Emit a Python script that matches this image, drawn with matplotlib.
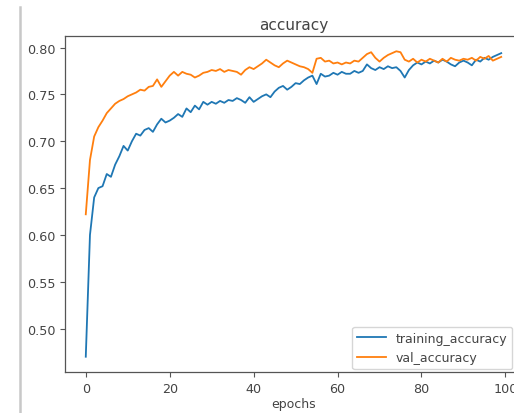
import matplotlib
matplotlib.use("Agg")
import matplotlib.pyplot as plt
from matplotlib.lines import Line2D

training_accuracy = [
    0.470, 0.600, 0.640, 0.650, 0.652, 0.665, 0.662, 0.675, 0.684, 0.695,
    0.690, 0.700, 0.708, 0.706, 0.712, 0.714, 0.710, 0.718, 0.724, 0.720,
    0.722, 0.725, 0.729, 0.726, 0.735, 0.731, 0.738, 0.734, 0.742, 0.739,
    0.742, 0.740, 0.743, 0.741, 0.744, 0.743, 0.746, 0.744, 0.741, 0.747,
    0.742, 0.745, 0.748, 0.750, 0.747, 0.753, 0.757, 0.759, 0.755, 0.758,
    0.762, 0.761, 0.765, 0.768, 0.770, 0.761, 0.772, 0.769, 0.770, 0.773,
    0.771, 0.774, 0.772, 0.772, 0.775, 0.773, 0.775, 0.782, 0.778, 0.776,
    0.779, 0.777, 0.780, 0.778, 0.779, 0.775, 0.768, 0.776, 0.781, 0.784,
    0.782, 0.785, 0.783, 0.786, 0.784, 0.787, 0.785, 0.782, 0.780, 0.784,
    0.786, 0.784, 0.781, 0.787, 0.785, 0.789, 0.787, 0.790, 0.792, 0.794,
]
val_accuracy = [
    0.622, 0.680, 0.705, 0.715, 0.722, 0.730, 0.735, 0.740, 0.743, 0.745,
    0.748, 0.750, 0.752, 0.755, 0.754, 0.758, 0.759, 0.766, 0.758, 0.764,
    0.770, 0.774, 0.770, 0.774, 0.772, 0.771, 0.768, 0.770, 0.773, 0.774,
    0.776, 0.775, 0.777, 0.774, 0.776, 0.775, 0.774, 0.771, 0.776, 0.779,
    0.777, 0.780, 0.783, 0.787, 0.784, 0.781, 0.779, 0.783, 0.786, 0.784,
    0.782, 0.780, 0.779, 0.777, 0.773, 0.788, 0.789, 0.785, 0.786, 0.783,
    0.784, 0.782, 0.784, 0.783, 0.786, 0.785, 0.789, 0.793, 0.795, 0.789,
    0.785, 0.789, 0.792, 0.794, 0.796, 0.795, 0.787, 0.785, 0.788, 0.784,
    0.787, 0.785, 0.788, 0.786, 0.784, 0.788, 0.785, 0.789, 0.787, 0.786,
    0.788, 0.787, 0.789, 0.786, 0.790, 0.788, 0.791, 0.786, 0.788, 0.790,
]
epochs = list(range(len(training_accuracy)))
xticks = [0, 20, 40, 60, 80, 100]
yticks = [0.50, 0.55, 0.60, 0.65, 0.70, 0.75, 0.80]
title = "accuracy"
xlabel = "epochs"

W, H = 514, 414
fig = plt.figure(figsize=(W / 100, H / 100), dpi=100)
txt = "#444444"

# axes extends beyond right edge (cropped screenshot)
ax = fig.add_axes([65 / W, 1 - 373 / H, 457 / W, 336 / H])
ax.plot(epochs, training_accuracy, color="#1f77b4", lw=1.3, label="training_accuracy")
ax.plot(epochs, val_accuracy, color="#ff7f0e", lw=1.3, label="val_accuracy")
ax.set_xticks(xticks)
ax.set_yticks(yticks)
ax.set_yticklabels([f"{v:.2f}" for v in yticks])
ax.tick_params(labelsize=9.2, colors="#555555", labelcolor=txt, length=3.5)
for s in ax.spines.values():
    s.set_color("#555555")
    s.set_linewidth(0.9)
ax.set_title(title, fontsize=11, color=txt, pad=5)
ax.set_xlabel(xlabel, fontsize=9, color=txt, labelpad=2)
leg = ax.legend(loc="lower left", bbox_to_anchor=(352 / W, 1 - 370 / H),
                bbox_transform=fig.transFigure, borderaxespad=0,
                fontsize=9, handlelength=2.3, frameon=True)
for t in leg.get_texts():
    t.set_color(txt)

# screenshot border line at left
fig.add_artist(Line2D([20 / W, 20 / W], [0, 1 - 8 / H], transform=fig.transFigure,
                      color="#c8c8c8", lw=1.8))

fig.savefig("out.png", dpi=100)
